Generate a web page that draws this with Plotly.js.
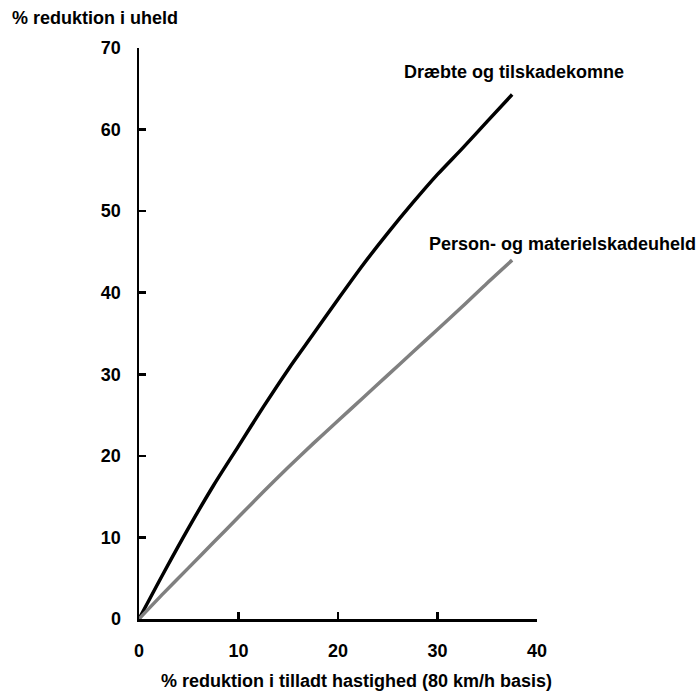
<!DOCTYPE html>
<html><head><meta charset="utf-8">
<script src="https://cdn.plot.ly/plotly-3.0.1.min.js"></script>
<style>body{margin:0;background:#fff}#c{width:699px;height:693px}</style>
</head><body><div id="c"></div>
<script>
// Data
const speedReduction = [0, 2.5, 5, 7.5, 10, 12.5, 15, 17.5, 20, 22.5, 25, 27.5, 30, 32.5, 35, 37.5];
const killedInjured = [0, 5.7, 11.2, 16.4, 21.2, 26.0, 30.6, 34.9, 39.2, 43.4, 47.3, 51.0, 54.5, 57.7, 61.0, 64.3];
const personMaterial = [0, 3.2, 6.3, 9.4, 12.5, 15.6, 18.6, 21.5, 24.3, 27.1, 29.9, 32.7, 35.5, 38.3, 41.2, 44.0];
const seriesNames = ["Dræbte og tilskadekomne", "Person- og materielskadeuheld"];
const xTicks = [0, 10, 20, 30, 40];
const yTicks = [0, 10, 20, 30, 40, 50, 60, 70];

const F = "Liberation Sans, Arial, sans-serif";
const FS = 18;
const traces = [
  {x: speedReduction, y: killedInjured, mode: "lines", name: seriesNames[0],
   line: {color: "#000000", width: 3.5, shape: "spline", smoothing: 0.8}},
  {x: speedReduction, y: personMaterial, mode: "lines", name: seriesNames[1],
   line: {color: "#808080", width: 3.5, shape: "spline", smoothing: 0.8}}
];
const axisCommon = {
  showgrid: false, zeroline: false, showline: true, linecolor: "#000", linewidth: 2.5,
  ticks: "inside", ticklen: 7, tickwidth: 2.5, tickcolor: "#000",
  tickfont: {family: F, size: FS, color: "#000", weight: "bold"}
};
const layout = {
  width: 699, height: 693,
  margin: {l: 139, r: 162, t: 48, b: 74},
  paper_bgcolor: "#fff", plot_bgcolor: "#fff",
  showlegend: false,
  xaxis: Object.assign({}, axisCommon, {range: [0, 40], tickvals: xTicks, ticklabelstandoff: 14}),
  yaxis: Object.assign({}, axisCommon, {range: [0, 70], tickvals: yTicks, ticklabelstandoff: 12}),
  annotations: [
    {text: "% reduktion i uheld", xref: "paper", yref: "paper", x: -129/398, y: 1 + 30/571,
     xanchor: "left", yanchor: "middle", showarrow: false,
     font: {family: F, size: FS, color: "#000", weight: "bold"}},
    {text: "% reduktion i tilladt hastighed (80 km/h basis)", xref: "paper", yref: "paper", x: (356-139)/398, y: -62/571,
     xanchor: "center", yanchor: "middle", showarrow: false,
     font: {family: F, size: FS, color: "#000", weight: "bold"}},
    {text: seriesNames[0], xref: "x", yref: "y", x: 26.4, y: 67.0,
     xanchor: "left", yanchor: "middle", showarrow: false,
     font: {family: F, size: FS, color: "#000", weight: "bold"}},
    {text: seriesNames[1], xref: "x", yref: "y", x: 28.9, y: 46.0,
     xanchor: "left", yanchor: "middle", showarrow: false,
     font: {family: F, size: FS, color: "#000", weight: "bold"}}
  ]
};
Plotly.newPlot("c", traces, layout, {displayModeBar: false, staticPlot: true});
</script></body></html>
